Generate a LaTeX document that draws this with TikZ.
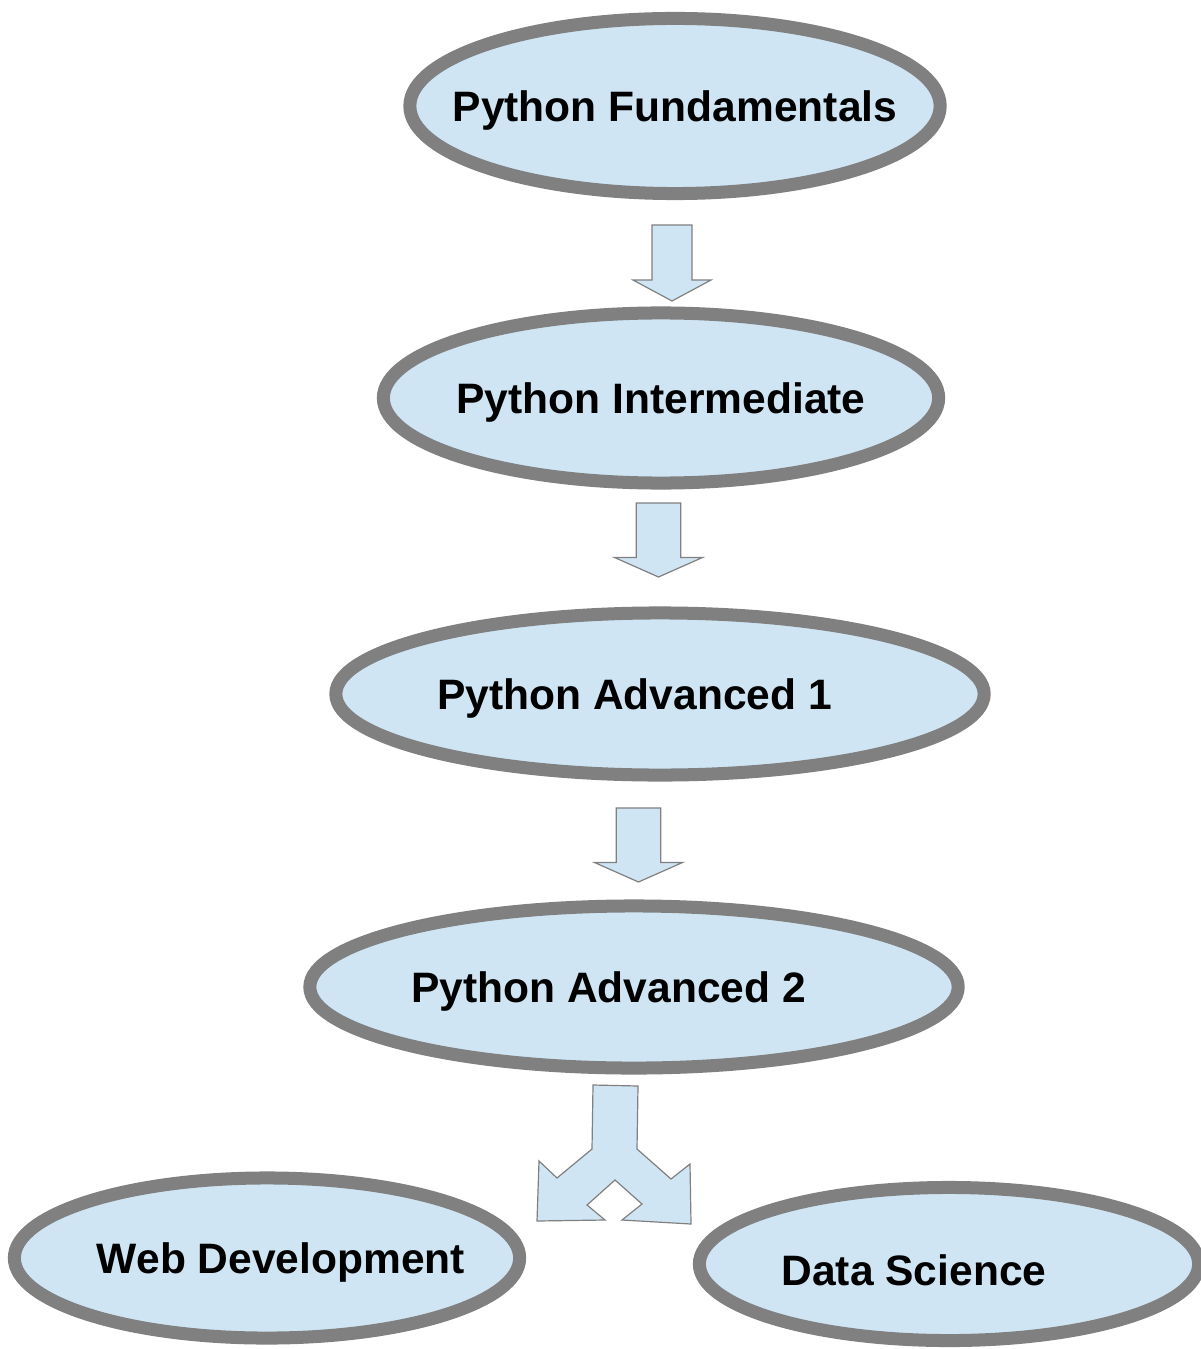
\documentclass[tikz,border=0pt]{standalone}
\usepackage{fontspec}
\setmainfont{Liberation Sans}
\usetikzlibrary{shapes.geometric}

\definecolor{stagefill}{RGB}{207,229,243}
\definecolor{stageline}{RGB}{128,128,128}

% block arrow pointing down: x, shaft half width, head half width, top, head base, tip
\newcommand{\flowarrow}[6]{%
  \draw[arrowbox] ({#1-#2},#4) -- ({#1+#2},#4) -- ({#1+#2},#5) -- ({#1+#3},#5)
    -- (#1,#6) -- ({#1-#3},#5) -- ({#1-#2},#5) -- cycle;}

\begin{document}
\begin{tikzpicture}[x=0.01cm, y=-0.01cm,
    stage/.style={ellipse, draw=stageline, fill=stagefill, line width=0.13cm, inner sep=0pt},
    stagetext/.style={font=\bfseries\fontsize{12.1}{14}\selectfont, inner sep=0pt, text depth=0pt},
    arrowbox/.style={draw=stageline, fill=stagefill, line width=0.012cm, line join=miter}]
  \useasboundingbox (0,0) rectangle (1200,1349);

  \node[stage, minimum width=5.30cm, minimum height=1.75cm,
        label={[stagetext]center:Python Fundamentals}] (fund) at (675,106) {};
  \node[stage, minimum width=5.55cm, minimum height=1.70cm,
        label={[stagetext]center:Python Intermediate}] (inter) at (661,398) {};
  \node[stage, minimum width=6.48cm, minimum height=1.62cm,
        label={[stagetext, xshift=-0.255cm]center:Python Advanced 1}] (advone) at (660,694) {};
  \node[stage, minimum width=6.48cm, minimum height=1.62cm,
        label={[stagetext, xshift=-0.255cm]center:Python Advanced 2}] (advtwo) at (634,987) {};
  \node[stage, minimum width=5.05cm, minimum height=1.60cm,
        label={[stagetext, xshift=0.14cm]center:Web Development}] (web) at (267,1258) {};
  \node[stage, minimum width=4.99cm, minimum height=1.53cm,
        label={[stagetext, xshift=-0.35cm, yshift=-0.06cm]center:Data Science}] (data) at (949,1264) {};

  \flowarrow{672}{20}{39}{225}{280}{301}
  \flowarrow{658.5}{22.3}{44}{503}{557.5}{577}
  \flowarrow{638.5}{22.3}{44}{808}{862.5}{882}

  % split arrow towards both tracks
  \draw[arrowbox] (593,1085) -- (638,1086) -- (637,1149) -- (671,1179) -- (690,1164)
    -- (691,1224) -- (622,1220) -- (642,1204) -- (615,1180) -- (587,1205)
    -- (605,1220) -- (537,1221) -- (539,1161) -- (557,1178) -- (592,1149) -- cycle;
\end{tikzpicture}
\end{document}
